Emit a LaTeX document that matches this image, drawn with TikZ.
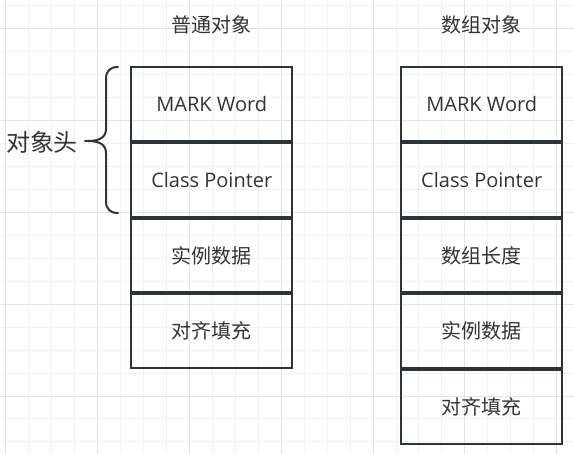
\documentclass[tikz,border=0pt]{standalone}
\usepackage{fontspec}
\setmainfont{Open Sans}
\newfontfamily\cjk{Noto Sans CJK SC}
\usetikzlibrary{positioning}
\definecolor{boxline}{HTML}{2D3439}
\definecolor{boxtext}{HTML}{333333}
\definecolor{gridminor}{HTML}{F0F0F0}
\definecolor{gridmajor}{HTML}{E3E3E3}
\tikzset{
  cell/.style={draw=boxline, line width=2pt, minimum width=161pt, minimum height=73.8pt,
    inner sep=0pt, text=boxtext, font=\fontsize{20}{24}\selectfont},
  cellcn/.style={cell, font=\cjk\fontsize{20}{24}\selectfont},
  coltitle/.style={text=boxtext, font=\cjk\fontsize{20}{24}\selectfont}
}

\begin{document}
\begin{tikzpicture}[x=1pt,y=-1pt]
  \useasboundingbox (0,0) rectangle (574,454);
  % grid
  \foreach\X in {0,...,24} {\draw[gridminor,line width=1pt] (5.7+22.96*\X,0) -- (5.7+22.96*\X,454);}
  \foreach\Y in {0,...,19} {\draw[gridminor,line width=1pt] (0,5.7+22.96*\Y) -- (574,5.7+22.96*\Y);}
  \foreach\X in {0,4,...,24} {\draw[gridmajor,line width=1pt] (5.7+22.96*\X,0) -- (5.7+22.96*\X,454);}
  \foreach\Y in {1,5,...,17} {\draw[gridmajor,line width=1pt] (0,5.7+22.96*\Y) -- (574,5.7+22.96*\Y);}

  \node[coltitle] (plainTitle) at (211.8,25) {普通对象};
  \node[coltitle] (arrTitle)   at (481.7,25) {数组对象};

  \node[cell] (plainMark) at (211.8,103.9) {MARK Word};
  \node[cell, below=0pt of plainMark]    (plainClass) {Class Pointer};
  \node[cellcn, below=0pt of plainClass] (plainData)  {实例数据};
  \node[cellcn, below=0pt of plainData]  (plainPad)   {对齐填充};

  \node[cell] (arrMark) at (481.7,103.9) {MARK Word};
  \node[cell, below=0pt of arrMark]    (arrClass) {Class Pointer};
  \node[cellcn, below=0pt of arrClass] (arrLen)   {数组长度};
  \node[cellcn, below=0pt of arrLen]   (arrData)  {实例数据};
  \node[cellcn, below=0pt of arrData]  (arrPad)   {对齐填充};

  % brace for the header
  \node[coltitle, font=\cjk\fontsize{24}{28}\selectfont] (headLabel) at (42,142) {对象头};
  \draw[boxline, line width=2pt, line cap=round]
    (118,67) .. controls (110,67) and (106,71) .. (106,79) -- (106,129)
    .. controls (106,137) and (100,141) .. (88,141)
    .. controls (100,141) and (106,145) .. (106,153) -- (106,201)
    .. controls (106,209) and (110,213) .. (118,213);
  \draw[boxline, line width=2pt, line cap=round] (85,141) -- (90,141);
\end{tikzpicture}
\end{document}
